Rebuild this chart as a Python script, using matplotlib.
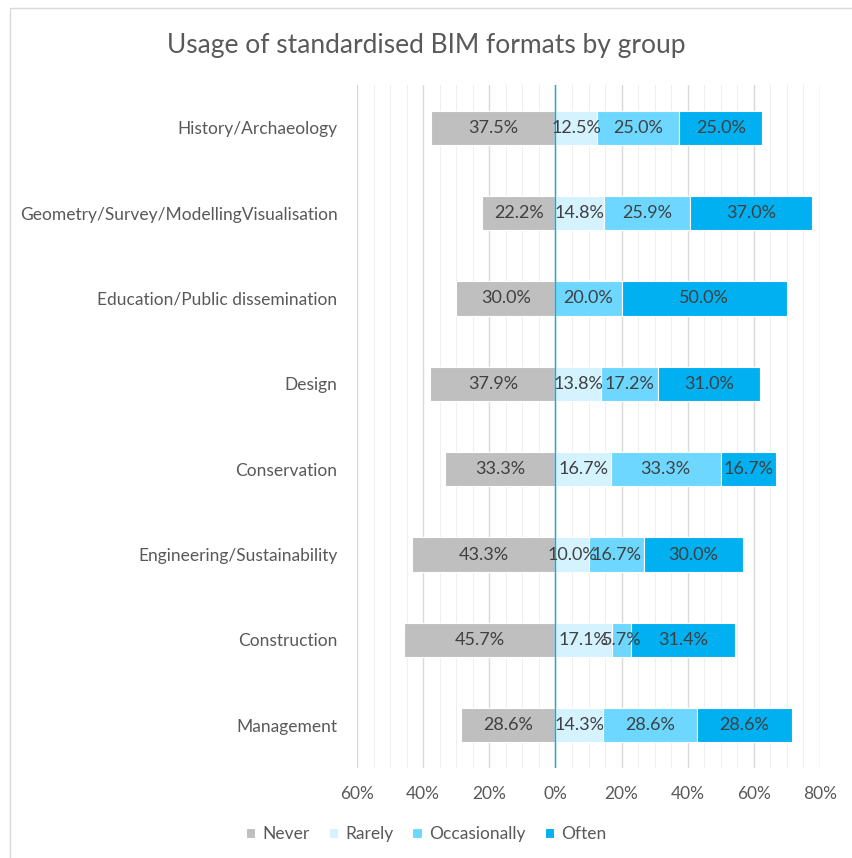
import numpy as np
import matplotlib.pyplot as plt
from matplotlib.patches import Rectangle
from matplotlib.ticker import MultipleLocator, FuncFormatter

groups = [
    "History/Archaeology",
    "Geometry/Survey/ModellingVisualisation",
    "Education/Public dissemination",
    "Design",
    "Conservation",
    "Engineering/Sustainability",
    "Construction",
    "Management",
]
never = [37.5, 22.2, 30.0, 37.9, 33.3, 43.3, 45.7, 28.6]
rarely = [12.5, 14.8, 0.0, 13.8, 16.7, 10.0, 17.1, 14.3]
occasionally = [25.0, 25.9, 20.0, 17.2, 33.3, 16.7, 5.7, 28.6]
often = [25.0, 37.0, 50.0, 31.0, 16.7, 30.0, 31.4, 28.6]

series = ["Never", "Rarely", "Occasionally", "Often"]
colors = ["#BFBFBF", "#D5F2FF", "#6DD7FF", "#00B0F0"]
txt = "#404040"
grey = "#595959"

plt.rcParams["font.family"] = ["Lato", "DejaVu Sans"]

fig = plt.figure(figsize=(8.52, 8.58), dpi=100)
ax = fig.add_axes([357 / 852, 1 - 768 / 858, (820 - 357) / 852, (768 - 85) / 858])

y = np.arange(len(groups))
h = 0.4

# never goes to the left of zero, the rest stack to the right
ax.barh(y, -np.array(never), height=h, color=colors[0], edgecolor="white",
        linewidth=0.8, label=series[0], zorder=3)
left = np.zeros(len(groups))
for name, vals, c in zip(series[1:], [rarely, occasionally, often], colors[1:]):
    vals = np.array(vals)
    ax.barh(y, vals, left=left, height=h, color=c, edgecolor="white",
            linewidth=0.8, label=name, zorder=3)
    for yi, l, v in zip(y, left, vals):
        if v > 0:
            ax.text(l + v / 2, yi, f"{v:.1f}%", ha="center", va="center",
                    fontsize=13, color=txt, zorder=5)
    left = left + vals
for yi, v in zip(y, never):
    ax.text(-v / 2, yi, f"{v:.1f}%", ha="center", va="center",
            fontsize=13, color=txt, zorder=5)

ax.set_xlim(-60, 80)
ax.set_ylim(len(groups) - 0.5, -0.5)
ax.xaxis.set_major_locator(MultipleLocator(20))
ax.xaxis.set_minor_locator(MultipleLocator(5))
ax.xaxis.set_major_formatter(FuncFormatter(lambda v, p: f"{abs(v):.0f}%"))
ax.grid(axis="x", which="major", color="#D9D9D9", linewidth=1.0, zorder=0)
ax.grid(axis="x", which="minor", color="#EFEFEF", linewidth=0.8, zorder=0)
ax.axvline(0, color="#00B0F0", linewidth=1.0, zorder=4)

ax.set_yticks(y)
ax.set_yticklabels(groups, fontsize=12.5, color=grey)
ax.tick_params(axis="y", length=0, pad=14)
ax.tick_params(axis="x", which="both", length=0, pad=13, labelsize=12.5,
               labelcolor=grey)
for s in ax.spines.values():
    s.set_visible(False)

fig.text(0.5, 1 - 45 / 858, "Usage of standardised BIM formats by group",
         ha="center", va="center", fontsize=19, color=grey)

handles, labels = ax.get_legend_handles_labels()
fig.legend(handles, labels, loc="center", bbox_to_anchor=(0.5, 1 - 834 / 858),
           ncol=4, frameon=False, fontsize=12.5, labelcolor=grey,
           handlelength=0.55, handleheight=0.55, handletextpad=0.4,
           columnspacing=1.1)

# chart frame
fig.patches.append(Rectangle((10 / 852, -0.1), 1.2, 1 - 8 / 858 + 0.1,
                             transform=fig.transFigure, fill=False,
                             edgecolor="#D9D9D9", linewidth=1.0))

fig.savefig("out.png", dpi=100)
